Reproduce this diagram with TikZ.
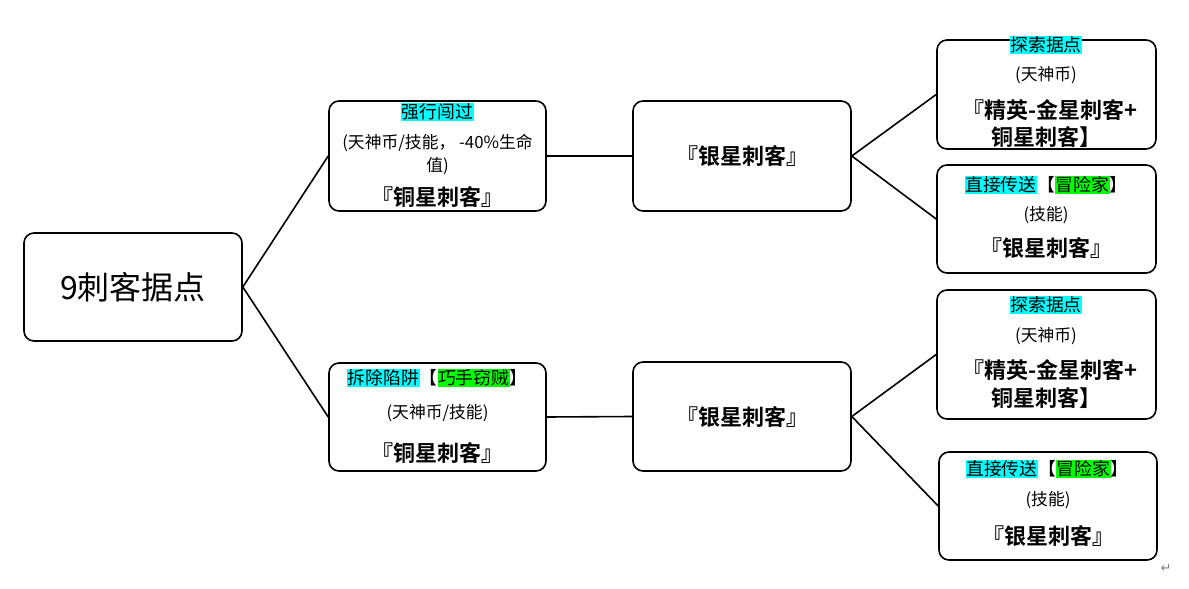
\documentclass[tikz,border=0pt]{standalone}
\usepackage{fontspec}
\setmainfont{Noto Sans CJK SC}
\newfontfamily\cjkbold{Noto Sans CJK SC Bold}
\newfontfamily\djv{DejaVu Sans}
\definecolor{hcyan}{RGB}{0,255,255}
\definecolor{hgreen}{RGB}{0,255,0}
\newcommand\hlc[1]{{\setlength\fboxsep{0.6pt}\colorbox{hcyan}{#1}}}
\newcommand\hlg[1]{{\setlength\fboxsep{0.6pt}\colorbox{hgreen}{#1}}}
\tikzset{
  box/.style={draw, line width=1.6pt, rounded corners=10pt, inner sep=0pt},
  link/.style={line width=1.6pt},
  ttl/.style={inner sep=0pt, font=\fontsize{17.8}{20}\selectfont},
  sml/.style={inner sep=0pt, font=\fontsize{16.8}{19}\selectfont},
  big/.style={inner sep=0pt, font=\cjkbold\fontsize{22}{24}\selectfont},
}
\begin{document}
\begin{tikzpicture}[x=1pt,y=-1pt]
\useasboundingbox (0,0) rectangle (1189,589);
% boxes
\node[box, minimum width=218pt, minimum height=108pt] (root) at (133,287) {};
\node[box, minimum width=217pt, minimum height=110pt] (a1) at (437.5,156) {};
\node[box, minimum width=218pt, minimum height=110pt] (b1) at (742,156) {};
\node[box, minimum width=219pt, minimum height=109pt] (c1) at (1046.5,94.5) {};
\node[box, minimum width=219pt, minimum height=108pt] (c2) at (1046.5,219) {};
\node[box, minimum width=217pt, minimum height=108pt] (a2) at (437.5,417) {};
\node[box, minimum width=218pt, minimum height=109pt] (b2) at (742,416.5) {};
\node[box, minimum width=219pt, minimum height=129pt] (d1) at (1046.5,354.5) {};
\node[box, minimum width=218pt, minimum height=108pt] (d2) at (1048,506) {};
% texts
\node[inner sep=0pt, font=\fontsize{32}{36}\selectfont] (roott) at (133,287) {9刺客据点};
\node[ttl] (a1t1) at (437.5,112) {\hlc{强行闯过}};
\node[sml] (a1t2) at (437.5,143) {(天神币/技能， -40\%生命};
\node[sml] (a1t3) at (437.5,166) {值)};
\node[big] (a1t4) at (437.5,197) {『铜星刺客』};
\node[big] (b1t) at (742,156) {『银星刺客』};
\node[ttl] (c1t1) at (1046,45) {\hlc{探索据点}};
\node[sml] (c1t2) at (1046,75) {(天神币)};
\node[big] (c1t3) at (1050,110) {『精英-金星刺客+};
\node[big] (c1t4) at (1046,137) {铜星刺客】};
\node[ttl] (c2t1) at (1046,185) {\hlc{直接传送}【\hlg{冒险家}】};
\node[sml] (c2t2) at (1046,215) {(技能)};
\node[big] (c2t3) at (1046,248) {『银星刺客』};
\node[ttl] (a2t1) at (437.5,378) {\hlc{拆除陷阱}【\hlg{巧手窃贼}】};
\node[sml] (a2t2) at (437.5,413) {(天神币/技能)};
\node[big] (a2t3) at (437.5,453) {『铜星刺客』};
\node[big] (b2t) at (742,417) {『银星刺客』};
\node[ttl] (d1t1) at (1046,305) {\hlc{探索据点}};
\node[sml] (d1t2) at (1046,336) {(天神币)};
\node[big] (d1t3) at (1050,370) {『精英-金星刺客+};
\node[big] (d1t4) at (1046,398) {铜星刺客】};
\node[ttl] (d2t1) at (1047,469) {\hlc{直接传送}【\hlg{冒险家}】};
\node[sml] (d2t2) at (1048,500) {(技能)};
\node[big] (d2t3) at (1048,536) {『银星刺客』};
\node[inner sep=0pt, text=gray, font=\djv\fontsize{13}{15}\selectfont] (ret) at (1166,568) {↵};
% connectors
\draw[link] (root.east) -- (a1.west);
\draw[link] (root.east) -- (a2.west);
\draw[link] (a1.east) -- (b1.west);
\draw[link] (a2.east) -- (b2.west);
\draw[link] (b1.east) -- (c1.west);
\draw[link] (b1.east) -- (c2.west);
\draw[link] (b2.east) -- (d1.west);
\draw[link] (b2.east) -- (d2.west);
\end{tikzpicture}
\end{document}
